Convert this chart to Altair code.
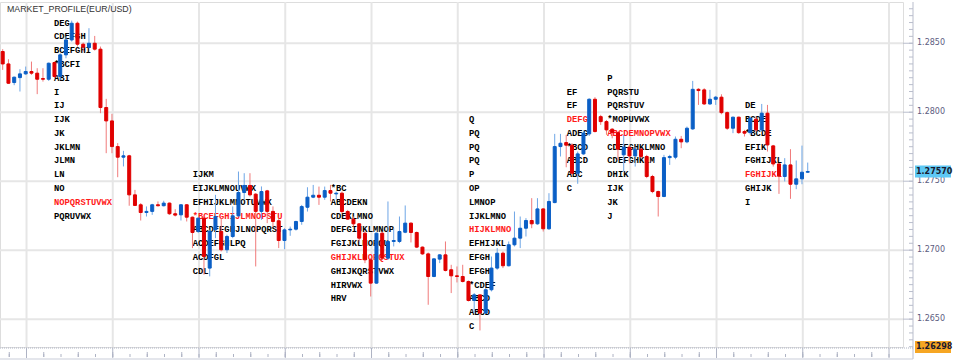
import altair as alt
import pandas as pd

# ---------------- candle data (hourly EUR/USD) ----------------
opens = [1.28440,1.28350,1.28215,1.28251,1.28278,1.28295,1.28283,1.28244,1.28239,1.28360,
         1.28259,1.28416,1.28524,1.28645,1.28493,1.28471,1.28500,1.28457,1.28034,1.27937,
         1.27751,1.27674,1.27684,1.27401,1.27329,1.27273,1.27281,1.27329,1.27322,1.27341,
         1.27264,1.27256,1.27329,1.27239,1.27136,1.27232,1.26870,1.27148,1.27136,1.27003,
         1.27099,1.27249,1.27418,1.27469,1.27406,1.27281,1.27430,1.27281,1.27213,1.27070,
         1.27147,1.27152,1.27208,1.27311,1.27384,1.27398,1.27384,1.27432,1.27408,1.27413,
         1.27280,1.27225,1.27191,1.27123,1.26930,1.26761,1.27123,1.26942,1.27063,1.27063,
         1.27130,1.27196,1.27128,1.27022,1.26973,1.26809,1.26935,1.26966,1.26858,1.26814,
         1.26809,1.26773,1.26635,1.26676,1.26544,1.26713,1.26870,1.26978,1.26887,1.27039,
         1.27087,1.27159,1.27215,1.27191,1.27299,1.27155,1.27345,1.27751,1.27780,1.27761,
         1.27558,1.27698,1.27843,1.28094,1.27968,1.27932,1.27877,1.27852,1.27691,1.27746,
         1.27683,1.27732,1.27679,1.27534,1.27425,1.27389,1.27671,1.27674,1.27804,1.27785,
         1.27879,1.28166,1.28162,1.28060,1.28094,1.28109,1.27997,1.27884,1.27964,1.27860,
         1.27852,1.27949,1.27872,1.27993,1.27756,1.27625,1.27534,1.27618,1.27478,1.27517,
         1.27565]
highs = [1.28457,1.28384,1.28258,1.28312,1.28331,1.28367,1.28319,1.28319,1.28360,1.28367,
         1.28428,1.28548,1.28664,1.28657,1.28505,1.28609,1.28553,1.28476,1.28097,1.27988,
         1.27776,1.27720,1.27691,1.27437,1.27341,1.27317,1.27336,1.27353,1.27358,1.27345,
         1.27297,1.27334,1.27334,1.27244,1.27237,1.27244,1.27148,1.27401,1.27232,1.27112,
         1.27317,1.27570,1.27558,1.27558,1.27413,1.27462,1.27437,1.27317,1.27225,1.27159,
         1.27171,1.27213,1.27328,1.27456,1.27473,1.27461,1.27461,1.27473,1.27425,1.27425,
         1.27292,1.27244,1.27196,1.27135,1.26942,1.27128,1.27135,1.27353,1.27159,1.27244,
         1.27324,1.27201,1.27135,1.27027,1.26983,1.26942,1.26971,1.27063,1.26894,1.26882,
         1.26894,1.26780,1.26689,1.26676,1.26725,1.26954,1.27015,1.26990,1.27063,1.27280,
         1.27244,1.27232,1.27377,1.27377,1.27304,1.27413,1.27843,1.27843,1.27836,1.27775,
         1.27715,1.27867,1.28101,1.28109,1.27981,1.27944,1.27884,1.27860,1.27836,1.27763,
         1.27751,1.27739,1.27691,1.27546,1.27432,1.27691,1.27691,1.27824,1.27828,1.27896,
         1.28227,1.28174,1.28174,1.28162,1.28118,1.28130,1.28005,1.27968,1.27968,1.27872,
         1.27968,1.27968,1.28060,1.28053,1.27763,1.27630,1.27667,1.27732,1.27650,1.27758,
         1.27635]
lows = [1.28307,1.28205,1.28196,1.28150,1.28271,1.28271,1.28131,1.28222,1.28227,1.28247,
        1.28234,1.28391,1.28512,1.28476,1.28440,1.28464,1.28447,1.27993,1.27703,1.27703,
        1.27529,1.27607,1.27322,1.27320,1.27215,1.27244,1.27256,1.27317,1.27317,1.27256,
        1.27244,1.27215,1.27208,1.27015,1.27124,1.26822,1.26810,1.27087,1.26991,1.26979,
        1.27087,1.27244,1.27365,1.27389,1.26882,1.27220,1.27196,1.27172,1.27015,1.27007,
        1.27104,1.27142,1.27184,1.27280,1.27377,1.27328,1.27365,1.27353,1.27365,1.27268,
        1.27220,1.27171,1.27063,1.26906,1.26664,1.26756,1.26930,1.26930,1.27027,1.27051,
        1.27123,1.27056,1.27015,1.26966,1.26604,1.26804,1.26906,1.26846,1.26689,1.26766,
        1.26766,1.26628,1.26544,1.26418,1.26539,1.26701,1.26858,1.26870,1.26882,1.27027,
        1.27015,1.27099,1.27159,1.27184,1.27135,1.27147,1.27340,1.27679,1.27601,1.27546,
        1.27481,1.27691,1.27828,1.27853,1.27908,1.27836,1.27811,1.27654,1.27570,1.27630,
        1.27606,1.27667,1.27522,1.27413,1.27244,1.27384,1.27618,1.27659,1.27739,1.27775,
        1.27872,1.28053,1.28053,1.28053,1.28053,1.27985,1.27872,1.27848,1.27843,1.27824,
        1.27836,1.27860,1.27860,1.27715,1.27606,1.27408,1.27498,1.27372,1.27442,1.27478,
        1.27560]
closes = [1.28350,1.28210,1.28254,1.28278,1.28295,1.28283,1.28239,1.28239,1.28355,1.28259,
          1.28416,1.28524,1.28645,1.28493,1.28471,1.28500,1.28457,1.28034,1.27937,1.27751,
          1.27674,1.27684,1.27401,1.27324,1.27273,1.27281,1.27329,1.27322,1.27341,1.27264,
          1.27254,1.27329,1.27239,1.27128,1.27232,1.26954,1.27136,1.27244,1.27003,1.27099,
          1.27249,1.27418,1.27469,1.27401,1.27281,1.27425,1.27281,1.27208,1.27070,1.27147,
          1.27152,1.27208,1.27316,1.27384,1.27398,1.27384,1.27432,1.27413,1.27413,1.27280,
          1.27225,1.27191,1.27087,1.26930,1.26761,1.27123,1.26942,1.27063,1.27070,1.27135,
          1.27196,1.27128,1.27022,1.26973,1.26809,1.26937,1.26966,1.26853,1.26814,1.26809,
          1.26773,1.26635,1.26676,1.26544,1.26713,1.26870,1.26978,1.26887,1.27039,1.27087,
          1.27159,1.27215,1.27191,1.27299,1.27155,1.27353,1.27751,1.27775,1.27761,1.27558,
          1.27698,1.27848,1.28094,1.27860,1.27932,1.27872,1.27852,1.27732,1.27746,1.27683,
          1.27732,1.27679,1.27534,1.27425,1.27389,1.27671,1.27679,1.27804,1.27785,1.27884,
          1.28166,1.28157,1.28060,1.28094,1.28109,1.27997,1.27884,1.27964,1.27852,1.27848,
          1.27956,1.27872,1.27993,1.27763,1.27625,1.27538,1.27618,1.27478,1.27517,1.27565,
          1.27570]

# ---------------- market profile letters ----------------
profile_start = [9.92, 34.04, 58.04, 82.1, 99.1, 106.15, 130.1]   # candle index where rows begin
profile_top = [1.2865, 1.2755, 1.2745, 1.2795, 1.2815, 1.2825, 1.2805]
profile_rows = [
    ["DEG", "CDEFGH", "BCEFGHI", "*BCFI", "ABI", "I", "IJ", "IJK", "JK", "JKLMN",
     "JLMN", "LN", "NO", "NOPQRSTUVWX", "PQRUVWX"],
    ["IJKM", "EIJKLMNOUVWX", "EFHIJKLMNOTUVWX", "*BCEFGHIJLMNOPSTU",
     "ABCDEFGHJLNOPQRST", "ACDEFGHLPQ", "ACDFGL", "CDL"],
    ["*BC", "ABCDEKN", "CDEKLMNO", "DEFGIJKLMNOP", "FGIJKLMOPQU",
     "GHIJKLMOPQSTUX", "GHIJKQRSTVWX", "HIRVWX", "HRV"],
    ["Q", "PQ", "PQ", "PQ", "P", "OP", "LMNOP", "IJKLMNO", "HIJKLMNO", "EFHIJKL",
     "EFGH", "EFGH", "*CDEF", "ABCD", "ABCD", "C"],
    ["EF", "EF", "DEFG", "ADEG", "*BCD", "ABCD", "ABC", "C"],
    ["P", "PQRSTU", "PQRSTUV", "*MOPUVWX", "ABCDEMNOPVWX", "CDEFGHKLMNO",
     "CDEFGHKLM", "DHIK", "IJK", "JK", "J"],
    ["DE", "BCDE", "*BCDE", "EFIK", "FGHIJKL", "FGHIJKL", "GHIJK", "I"],
]
profile_poc = [13, 3, 5, 8, 2, 4, 5]

price_grid = [1.2650, 1.2700, 1.2750, 1.2800, 1.2850]
price_labels = ["1.2650", "1.2700", "1.2750", "1.2800", "1.2850"]
time_grid = [5.14, 20.14, 35.14, 50.14, 65.14, 80.14, 95.14, 110.14, 125.14, 140.14, 155.14]
minor_ticks = [round(1.2630 + 0.0005 * k, 4) for k in range(50)]
time_ticks = [round(2.14 + 3 * k, 2) for k in range(52)]
last_price = [1.27570]
low_price = [1.26298]
title_text = "MARKET_PROFILE(EUR/USD)"

# ---------------- tables ----------------
cdf = pd.DataFrame({"i": list(range(1, len(opens) + 1)), "open": opens, "high": highs,
                    "low": lows, "close": closes})
cdf["dir"] = ["up" if c >= o else "down" for o, c in zip(opens, closes)]

rows = []
for s, top, rr, poc in zip(profile_start, profile_top, profile_rows, profile_poc):
    for k, t in enumerate(rr):
        rows.append({"i": s, "price": round(top - 0.001 * k, 4), "txt": t,
                     "poc": "poc" if k == poc else "row"})
pdf = pd.DataFrame(rows)

W, H = 903, 345
xs = alt.Scale(domain=[0.53, 157.57], nice=False, zero=False, padding=0)
ys = alt.Scale(domain=[1.26298, 1.28799], nice=False, zero=False, padding=0)

hgrid = alt.Chart(pd.DataFrame({"p": price_grid})).mark_rule(
    color="#e6e6e6", strokeWidth=2).encode(
    y=alt.Y("p:Q", scale=ys, axis=None), x=alt.value(0), x2=alt.value(W))
vgrid = alt.Chart(pd.DataFrame({"t": time_grid})).mark_rule(
    color="#e6e6e6", strokeWidth=2).encode(
    x=alt.X("t:Q", scale=xs, axis=None), y=alt.value(0), y2=alt.value(H))

letters = alt.Chart(pdf).mark_text(
    align="left", baseline="middle", font="Liberation Mono", fontSize=8.8,
    fontWeight="bold").encode(
    x=alt.X("i:Q", scale=xs, axis=None),
    y=alt.Y("price:Q", scale=ys, axis=None),
    text="txt:N",
    color=alt.Color("poc:N", scale=alt.Scale(domain=["row", "poc"],
                                             range=["#000000", "#ff1a1a"]), legend=None))

wicks = alt.Chart(cdf).mark_rule(strokeWidth=1).encode(
    x=alt.X("i:Q", scale=xs, axis=None),
    y=alt.Y("low:Q", scale=ys, axis=None),
    y2="high:Q",
    color=alt.Color("dir:N", scale=alt.Scale(domain=["up", "down"],
                                             range=["#6ea6e6", "#f07a7a"]), legend=None))

bodies = alt.Chart(cdf).mark_bar(width=3, strokeWidth=1).encode(
    x=alt.X("i:Q", scale=xs, axis=None),
    y=alt.Y("open:Q", scale=ys, axis=None),
    y2="close:Q",
    color=alt.Color("dir:N", scale=alt.Scale(domain=["up", "down"],
                                             range=["#0b5fc6", "#e00000"]), legend=None),
    stroke=alt.Stroke("dir:N", scale=alt.Scale(domain=["up", "down"],
                                               range=["#0b5fc6", "#e00000"]), legend=None))

# right price axis (drawn by hand so the ticks point inward)
axis_line = alt.Chart(pd.DataFrame({"a": [0]})).mark_rule(
    color="#b9bdcc", strokeWidth=1).encode(
    x=alt.value(W + 10), y=alt.value(0), y2=alt.value(H + 12))
ticks_df = pd.DataFrame({"p": minor_ticks})
minor = alt.Chart(ticks_df).transform_filter(
    (alt.datum.p >= 1.26298) & (alt.datum.p <= 1.28799)).mark_rule(
    color="#b9bdcc", strokeWidth=1).encode(
    y=alt.Y("p:Q", scale=ys, axis=None),
    x=alt.value(W + 10), x2=alt.value(W + 6))
major_p = alt.Chart(pd.DataFrame({"p": price_grid})).mark_rule(
    color="#b9bdcc", strokeWidth=1).encode(
    y=alt.Y("p:Q", scale=ys, axis=None),
    x=alt.value(W), x2=alt.value(W + 10))
plabels = alt.Chart(pd.DataFrame({"p": price_grid, "lab": price_labels})).mark_text(
    align="left", baseline="middle", font="DejaVu Sans", fontSize=8,
    color="#5c5c80").encode(
    y=alt.Y("p:Q", scale=ys, axis=None), x=alt.value(W + 14), text="lab:N")

# bottom time strip
strip_line = alt.Chart(pd.DataFrame({"a": [0]})).mark_rule(
    color="#aeb3c4", strokeWidth=1, strokeDash=[1, 1]).encode(
    x=alt.value(0), x2=alt.value(W + 10), y=alt.value(H + 1))
strip_bottom = alt.Chart(pd.DataFrame({"a": [0]})).mark_rule(
    color="#c9cdd9", strokeWidth=1).encode(
    x=alt.value(0), x2=alt.value(W + 10), y=alt.value(H + 12))
tt_df = pd.DataFrame({"t": time_ticks})
tt_df["k"] = ["a" if k % 2 == 0 else "b" for k in range(len(time_ticks))]
tticks = alt.Chart(tt_df).transform_filter(alt.datum.t <= 157).mark_rule(
    color="#aeb3c4", strokeWidth=1).encode(
    x=alt.X("t:Q", scale=xs, axis=None),
    y=alt.value(H + 10), y2=alt.value(H + 7))
tticks2 = alt.Chart(tt_df).transform_filter(
    (alt.datum.t <= 157) & (alt.datum.k == "a")).mark_rule(
    color="#aeb3c4", strokeWidth=1).encode(
    x=alt.X("t:Q", scale=xs, axis=None),
    y=alt.value(H + 10), y2=alt.value(H + 5))
major_t = alt.Chart(pd.DataFrame({"t": time_grid})).mark_rule(
    color="#aeb3c4", strokeWidth=1).encode(
    x=alt.X("t:Q", scale=xs, axis=None), y=alt.value(H + 1), y2=alt.value(H + 11))

hl_df = pd.DataFrame({"p": last_price + low_price, "lab": ["1.27570", "1.26298"],
                      "kind": ["last", "low"]})
hl_box = alt.Chart(hl_df).mark_tick(size=36, thickness=12, opacity=1).encode(
    y=alt.Y("p:Q", scale=ys, axis=None), x=alt.value(W + 30),
    color=alt.Color("kind:N", scale=alt.Scale(domain=["last", "low"],
                                              range=["#5ec8f4", "#f6a623"]), legend=None))
hl_txt = alt.Chart(hl_df).mark_text(
    align="left", baseline="middle", font="DejaVu Sans", fontSize=8, fontWeight="bold",
    color="#1a1a2e").encode(
    y=alt.Y("p:Q", scale=ys, axis=None), x=alt.value(W + 13), text="lab:N")

title = alt.Chart(pd.DataFrame({"t": [title_text]})).mark_text(
    align="left", baseline="middle", font="Liberation Sans", fontSize=8.8,
    color="#333333").encode(x=alt.value(7), y=alt.value(7), text="t:N")

chart = alt.layer(hgrid, vgrid, letters, wicks, bodies, axis_line, minor, major_p, plabels,
                  strip_line, strip_bottom, tticks, tticks2, major_t, hl_box, hl_txt,
                  title).properties(
    width=W, height=H,
    autosize=alt.AutoSizeParams(type="none"),
    padding={"left": 0, "top": 2, "right": 57, "bottom": 14},
).resolve_scale(color="independent", stroke="independent").configure_view(
    stroke="#c9cdd9", strokeWidth=1).configure(background="#ffffff")

chart.save("out.html", embed_options={"renderer": "svg", "actions": False})
